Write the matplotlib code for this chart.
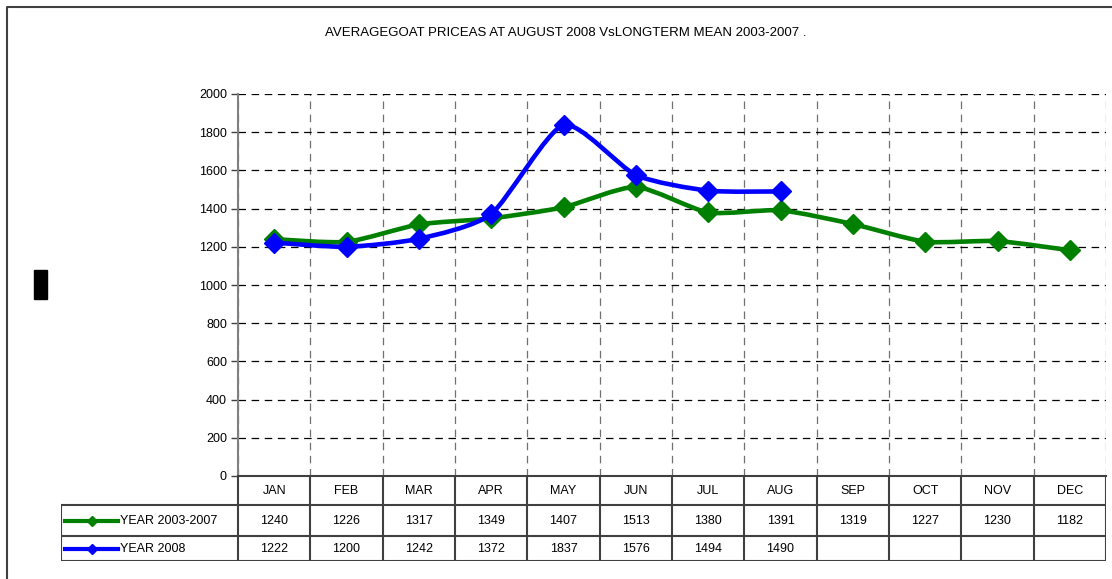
import numpy as np
import matplotlib
matplotlib.use("Agg")
import matplotlib.pyplot as plt
from matplotlib.path import Path
from matplotlib.patches import PathPatch, Rectangle
from matplotlib.lines import Line2D

plt.rcParams["font.family"] = ["Liberation Sans", "DejaVu Sans"]

months = ["JAN", "FEB", "MAR", "APR", "MAY", "JUN", "JUL", "AUG", "SEP", "OCT", "NOV", "DEC"]
mean_0307 = [1240, 1226, 1317, 1349, 1407, 1513, 1380, 1391, 1319, 1227, 1230, 1182]
year_2008 = [1222, 1200, 1242, 1372, 1837, 1576, 1494, 1490]
series = [("YEAR 2003-2007", mean_0307, "#008000"),
          ("YEAR 2008", year_2008, "#0000ff")]
title = "AVERAGEGOAT PRICEAS AT AUGUST 2008 VsLONGTERM MEAN 2003-2007 ."

W, H = 1112, 579
fig = plt.figure(figsize=(W / 100, H / 100), dpi=100)


def fx(px):
    return px / W


def fy(py):
    return 1 - py / H


# layout in pixels
ax_l, ax_r, ax_t, ax_b = 238, 1106, 94, 476
tb_l, tb_b = 61, 561
col_w = (ax_r - ax_l) / len(months)

ax = fig.add_axes([fx(ax_l), fy(ax_b), fx(ax_r - ax_l), (ax_b - ax_t) / H])
ax.set_xlim(0, len(months))
ax.set_ylim(0, 2000)
ax.set_yticks(np.arange(0, 2001, 200))
ax.set_xticks(np.arange(0, len(months) + 1))
ax.tick_params(axis="x", length=0, labelbottom=False)
ax.tick_params(axis="y", length=5, width=1, color="#404040", labelsize=9, pad=3)
ax.grid(axis="y", color="black", lw=0.9, linestyle=(0, (6, 4.5)))
ax.grid(axis="x", color="#707070", lw=0.9, linestyle=(0, (6, 4.5)))
for s in ["top", "right"]:
    ax.spines[s].set_visible(False)
ax.spines["left"].set_color("#808080")
ax.spines["left"].set_linewidth(1.5)
ax.spines["bottom"].set_color("#404040")
ax.spines["bottom"].set_linewidth(1.5)


def smooth_path(xs, ys, k=9.0):
    # Excel-style smoothed line: cubic beziers through the points
    pts = np.column_stack([xs, ys]).astype(float)
    n = len(pts)
    verts = [pts[0]]
    codes = [Path.MOVETO]
    for i in range(n - 1):
        p0 = pts[max(i - 1, 0)]
        p1 = pts[i]
        p2 = pts[i + 1]
        p3 = pts[min(i + 2, n - 1)]
        verts += [p1 + (p2 - p0) / k, p2 - (p3 - p1) / k, p2]
        codes += [Path.CURVE4] * 3
    return Path(verts, codes)


for z, (name, vals, color) in enumerate(series):
    xs = np.arange(len(vals)) + 0.5
    ax.add_patch(PathPatch(smooth_path(xs, vals), fill=False, edgecolor=color,
                           lw=3.3, capstyle="round", joinstyle="round", zorder=3 + 2 * z))
    ax.plot(xs, vals, "D", color=color, ms=10, mec=color, zorder=4 + 2 * z, clip_on=False)

# data table below the axes
tb = fig.add_axes([fx(tb_l), fy(tb_b), fx(ax_r - tb_l), (tb_b - ax_b) / H])
tb.set_xlim(-(ax_l - tb_l) / col_w, len(months))
tb.set_ylim(tb_b - ax_b, 0)
tb.axis("off")
x0 = tb.get_xlim()[0]
rows = [0, 29, 60, 85]
lc = "#404040"
tb.vlines(np.arange(0, len(months) + 1), rows[0], rows[3], color=lc, lw=1.5)
tb.hlines(rows[1:], x0, len(months), color=lc, lw=1.5)
tb.vlines(x0, rows[1], rows[3], color=lc, lw=1.5)
for i, m in enumerate(months):
    tb.text(i + 0.5, (rows[0] + rows[1]) / 2, m, ha="center", va="center", fontsize=9)
for r, (name, vals, color) in enumerate(series):
    yc = (rows[r + 1] + rows[r + 2]) / 2
    for i, v in enumerate(vals):
        tb.text(i + 0.5, yc, str(v), ha="center", va="center", fontsize=9)
    lx = [x0 + 4 / col_w, x0 + 57 / col_w]
    tb.add_line(Line2D(lx, [yc, yc], color=color, lw=3))
    tb.plot(np.mean(lx), yc, "D", color=color, ms=5)
    tb.text(x0 + 59 / col_w, yc + 1, name, ha="left", va="center", fontsize=9)

# title, outer frame, and the blacked-out axis label
fig.text(fx(566), fy(33), title, ha="center", va="center", fontsize=9.5)
fig.add_artist(Line2D([fx(7), fx(7), 1.0], [0, fy(7), fy(7)], color="#404040", lw=1.5))
fig.add_artist(Rectangle((fx(34), fy(299)), fx(13), 29 / H, color="black"))

fig.savefig("out.png", dpi=100)
